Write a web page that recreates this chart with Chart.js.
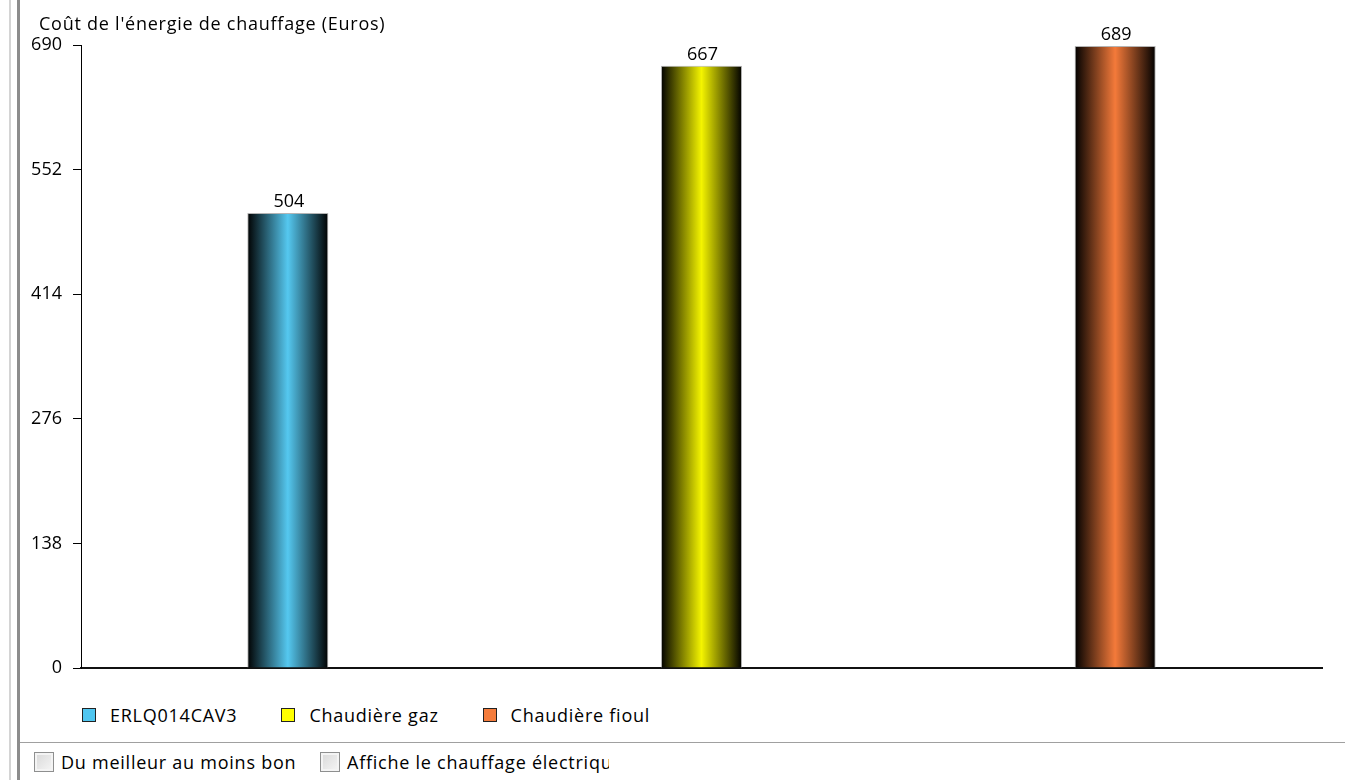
<!DOCTYPE html>
<html lang="fr">
<head>
<meta charset="utf-8">
<script src="https://cdn.jsdelivr.net/npm/chart.js@4.4.0/dist/chart.umd.min.js"></script>
<style>
  html, body { margin: 0; padding: 0; background: #fff; }
  body { width: 1345px; height: 780px; position: relative; overflow: hidden;
         font-family: "Open Sans", "Noto Sans", sans-serif; color: #000; }
  #wrap { position: absolute; left: 0; top: 0; width: 1345px; height: 700px; }
  .vline { position: absolute; top: 0; bottom: 0; }
  .txt { font-size: 18px; letter-spacing: 0.75px; white-space: nowrap; }
  #titre { position: absolute; left: 39px; top: 11px; }
  #legende { position: absolute; left: 82px; top: 703px; display: flex; }
  #legende .item { display: flex; align-items: center; margin-right: 44px; }
  #legende .box { width: 12px; height: 12px; border: 1px solid #222; margin-right: 14px; }
  #sep { position: absolute; left: 20px; right: 0; top: 742px; height: 1px; background: #a0a0a0; }
  .check { position: absolute; top: 750px; display: flex; align-items: center; }
  .check .cb { width: 18px; height: 18px; border: 1px solid #8e8f8f; margin-right: 7px; flex: none;
               background: linear-gradient(135deg, #d8d8d8, #f6f6f6); box-shadow: inset 0 0 0 2px #f4f4f4; }
</style>
</head>
<body>
<div class="vline" style="left:9px;width:2px;background:#d4d4d4"></div>
<div class="vline" style="left:17px;width:3px;background:#8c8c8c"></div>
<div id="wrap"><canvas id="chart"></canvas></div>
<div id="titre" class="txt">Coût de l'énergie de chauffage (Euros)</div>
<div id="legende" class="txt"></div>
<div id="sep"></div>
<div class="check txt" style="left:34px"><div class="cb"></div>Du meilleur au moins bon</div>
<div class="check txt" style="left:320px;width:289px;overflow:hidden"><div class="cb"></div>Affiche le chauffage électrique</div>
<script>
// Données du graphique
const categories = ["ERLQ014CAV3", "Chaudière gaz", "Chaudière fioul"];
const couts = [504, 667, 689];
const couleurs = ["#55c8f0", "#f4f400", "#f47a3a"];
const couleursLegende = ["#4fc6f0", "#ffff00", "#f47c3c"];
const yMax = 690;
const yPas = 138;

const BAR_PCT = 0.196;
const POLICE = '"Open Sans", "Noto Sans", sans-serif';

// Légende HTML
const leg = document.getElementById("legende");
categories.forEach((c, i) => {
  const it = document.createElement("div");
  it.className = "item";
  it.innerHTML = '<div class="box" style="background:' + couleursLegende[i] + '"></div>' + c;
  leg.appendChild(it);
});

// Dégradé horizontal noir -> couleur -> noir pour chaque barre
function degrade(ctx) {
  const chart = ctx.chart;
  const i = ctx.dataIndex;
  const x = chart.scales.x;
  if (!chart.chartArea || !x || i === undefined) return couleurs[i || 0];
  const cx = x.getPixelForValue(i);
  const w = x.width / categories.length * BAR_PCT;
  const g = chart.ctx.createLinearGradient(cx - w / 2, 0, cx + w / 2, 0);
  g.addColorStop(0, "#000");
  g.addColorStop(0.5, couleurs[i]);
  g.addColorStop(1, "#000");
  return g;
}

// Valeur affichée au-dessus de chaque barre
const valeurs = {
  id: "valeurs",
  afterDatasetsDraw(chart) {
    const c = chart.ctx;
    c.save();
    c.font = "18px " + POLICE;
    c.fillStyle = "#000";
    c.textAlign = "center";
    c.textBaseline = "bottom";
    chart.getDatasetMeta(0).data.forEach((bar, i) => {
      c.fillText(String(couts[i]), bar.x + 1, bar.y - 2);
    });
    c.restore();
  }
};

new Chart(document.getElementById("chart"), {
  type: "bar",
  data: {
    labels: categories,
    datasets: [{
      data: couts,
      backgroundColor: degrade,
      borderColor: "#b4b4b4",
      borderWidth: { left: 1, right: 1, top: 1, bottom: 0 },
      categoryPercentage: 1,
      barPercentage: BAR_PCT
    }]
  },
  options: {
    responsive: true,
    maintainAspectRatio: false,
    animation: false,
    layout: { padding: { left: 0, top: 45, right: 23, bottom: 32 } },
    plugins: { legend: { display: false }, tooltip: { enabled: false } },
    scales: {
      x: {
        ticks: { display: false },
        grid: { display: false },
        border: { display: true, color: "#111", width: 2 },
        afterFit(s) { s.height = 0; }
      },
      y: {
        min: 0,
        max: yMax,
        ticks: {
          stepSize: yPas,
          color: "#000",
          padding: 11,
          font: { family: POLICE, size: 18 }
        },
        grid: { drawOnChartArea: false, drawTicks: true, tickLength: 8, color: "#000" },
        border: { display: true, color: "#000", width: 1 },
        afterFit(s) { s.width = 81; }
      }
    }
  },
  plugins: [valeurs]
});
</script>
</body>
</html>
